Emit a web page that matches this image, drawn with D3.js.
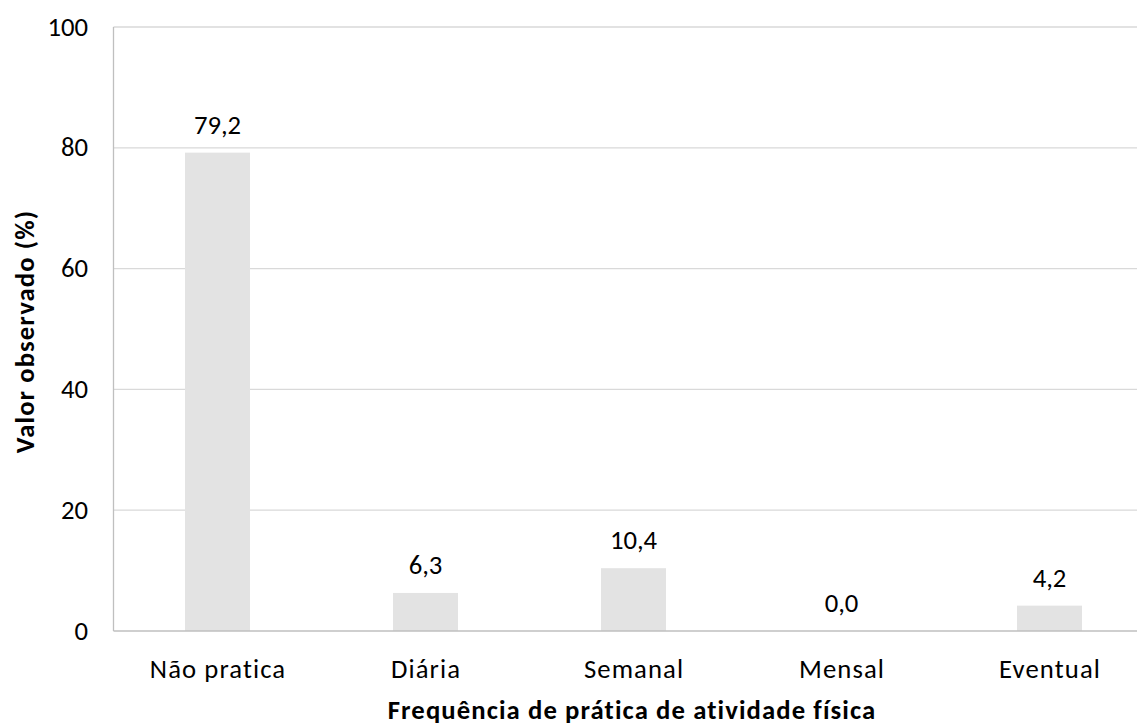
<!DOCTYPE html>
<html><head><meta charset="utf-8">
<script src="https://cdn.jsdelivr.net/npm/d3@7"></script>
<style>body{margin:0;background:#fff}text{font-family:Carlito,Calibri,Lato,sans-serif;fill:#000}</style>
</head><body><svg id="c" width="1137" height="725"></svg>
<script>
const categories = ["Não pratica","Diária","Semanal","Mensal","Eventual"];
const values = [79.2, 6.3, 10.4, 0.0, 4.2];
const yTicks = [0,20,40,60,80,100];
const xTitle = "Frequência de prática de atividade física";
const yTitle = "Valor observado (%)";

const svg = d3.select("#c");
const L = 113.5, R = 1153.5, T = 27, B = 631;
const FS = 26.7, LS = 1.1;
const x = d3.scaleBand().domain(categories).range([L, R]).paddingInner(0.6875).paddingOuter(0.34375);
const y = d3.scaleLinear().domain([0,100]).range([B, T]);

// gridlines
svg.append("g").selectAll("line").data(yTicks.filter(d=>d>0)).join("line")
  .attr("x1", L).attr("x2", 1137).attr("y1", d=>y(d)).attr("y2", d=>y(d))
  .attr("stroke", "#d9d9d9").attr("stroke-width", 1.3);

// bars
svg.append("g").selectAll("rect").data(values).join("rect")
  .attr("x", (d,i)=>x(categories[i])).attr("width", x.bandwidth())
  .attr("y", d=>y(d)).attr("height", d=>B - y(d)).attr("fill", "#e3e3e3");

// axes lines
svg.append("line").attr("x1", L).attr("x2", 1137).attr("y1", B).attr("y2", B).attr("stroke", "#bfbfbf").attr("stroke-width", 1.3);
svg.append("line").attr("x1", L).attr("x2", L).attr("y1", T).attr("y2", B).attr("stroke", "#bfbfbf").attr("stroke-width", 1.3);

// y tick labels
svg.append("g").selectAll("text").data(yTicks).join("text")
  .attr("x", 88).attr("y", d=>y(d)+8.5).attr("text-anchor", "end")
  .attr("font-size", FS).text(d=>d);

// x tick labels
svg.append("g").selectAll("text").data(categories).join("text")
  .attr("x", d=>x(d)+x.bandwidth()/2 + LS/2).attr("y", 678).attr("text-anchor", "middle")
  .attr("font-size", FS).attr("letter-spacing", LS).text(d=>d);

// value labels
svg.append("g").selectAll("text").data(values).join("text")
  .attr("x", (d,i)=>x(categories[i])+x.bandwidth()/2).attr("y", d=>y(d)-19).attr("text-anchor", "middle")
  .attr("font-size", FS).text(d=>d3.format(".1f")(d).replace(".", ","));

// axis titles
svg.append("text").attr("x", 631.5 + LS/2).attr("y", 719).attr("text-anchor", "middle")
  .attr("font-size", FS).attr("font-weight", "bold").attr("letter-spacing", LS).text(xTitle);
svg.append("text").attr("transform", "translate(34,331.5) rotate(-90)").attr("text-anchor", "middle")
  .attr("font-size", FS).attr("font-weight", "bold").attr("letter-spacing", LS).text(yTitle);
</script></body></html>
